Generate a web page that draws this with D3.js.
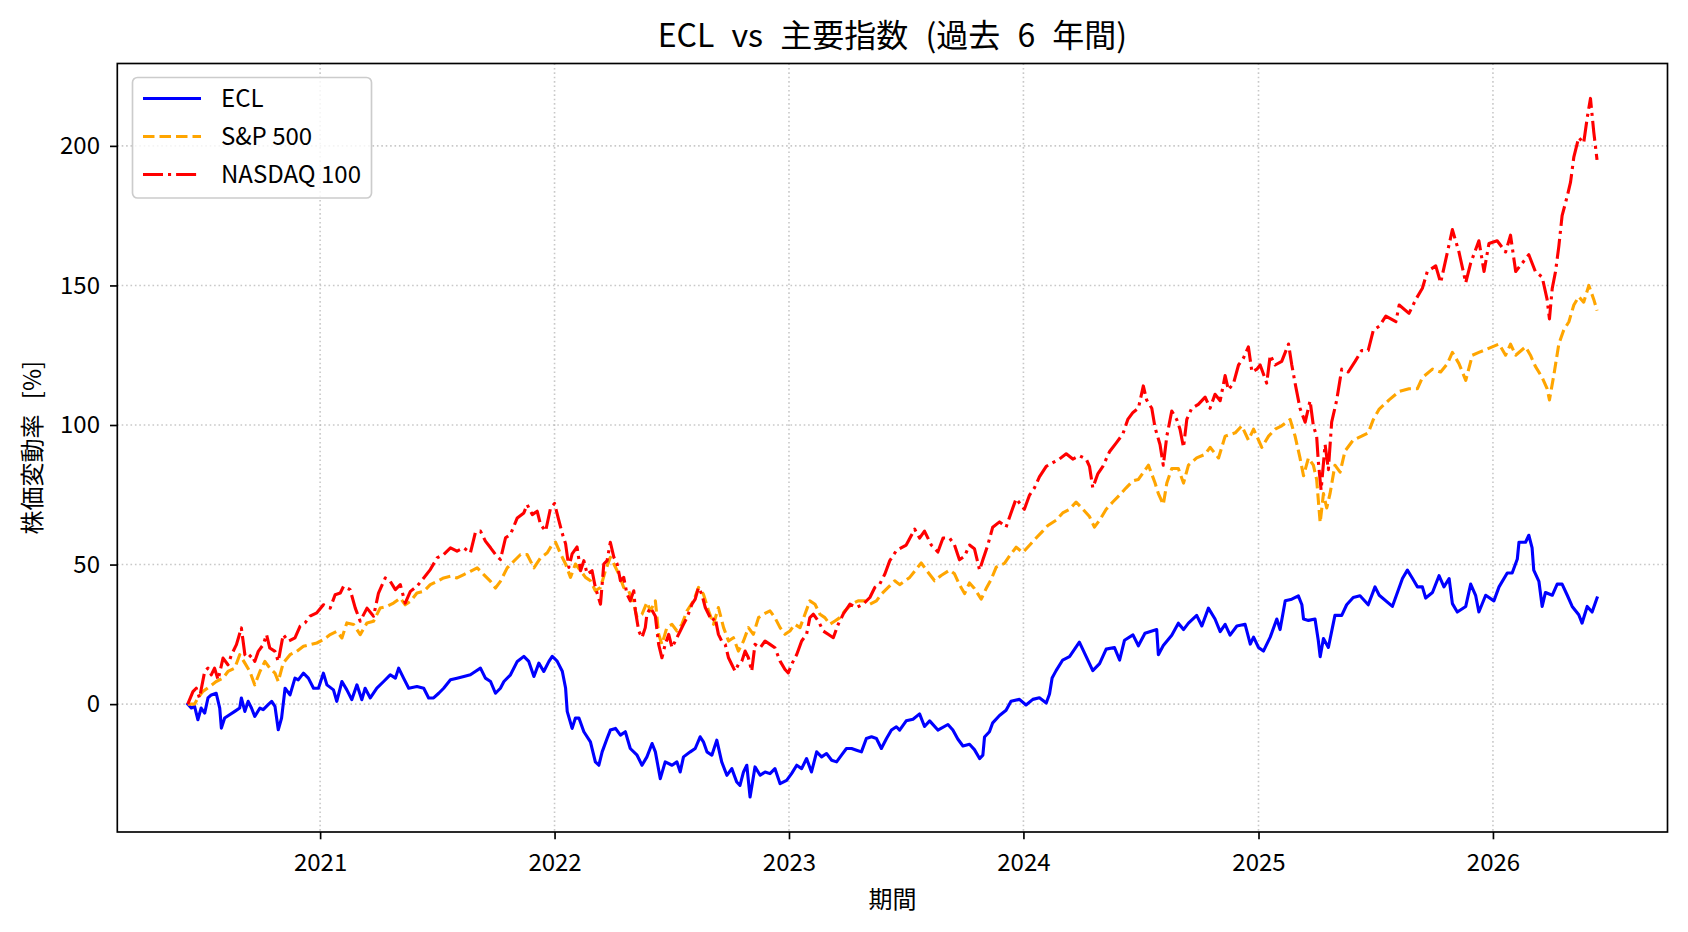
<!DOCTYPE html>
<html><head><meta charset="utf-8">
<script src="https://cdn.jsdelivr.net/npm/d3@7"></script>
<style>
html,body{margin:0;padding:0;background:#fff;}
svg{display:block;}
text{font-family:"Noto Sans CJK JP","Noto Sans",sans-serif;fill:#000;}
</style></head>
<body>
<script>
// ---- data: [decimal year, % change] ----
const seriesNames = ["ECL", "S&P 500", "NASDAQ 100"];
const yTicks = [0, 50, 100, 150, 200];
const xTickYears = [2021, 2022, 2023, 2024, 2025, 2026];
const titleText = "ECL vs 主要指数 (過去 6 年間)";
const xLabel = "期間";
const yLabel = "株価変動率 [%]";

const ecl = [
[2020.437,0],[2020.452,-1.4],[2020.466,-0.8],[2020.480,-5.6],[2020.494,-1.4],[2020.509,-3.2],[2020.523,2.2],[2020.537,3.3],[2020.558,3.9],[2020.573,-1.4],[2020.580,-8.6],[2020.594,-5],[2020.615,-3.8],[2020.637,-2.6],[2020.658,-1.4],[2020.665,2.2],[2020.680,-2.6],[2020.694,1],[2020.708,-1.4],[2020.722,-4.4],[2020.744,-1.4],[2020.758,-2],[2020.779,-0.2],[2020.794,1],[2020.808,-0.8],[2020.822,-9.2],[2020.836,-5],[2020.851,5.7],[2020.872,3.3],[2020.893,9.3],[2020.907,8.7],[2020.929,11.1],[2020.950,9.3],[2020.972,5.7],[2020.993,5.7],
[2021.014,11.1],[2021.029,6.9],[2021.057,5.1],[2021.071,1],[2021.093,8.1],[2021.114,5.1],[2021.135,1.6],[2021.157,6.9],[2021.178,1.6],[2021.192,5.7],[2021.214,2.2],[2021.242,5.7],[2021.271,8.1],[2021.299,10.5],[2021.321,9.3],[2021.335,12.9],[2021.356,9.3],[2021.378,5.7],[2021.413,6.3],[2021.442,5.7],[2021.463,2.2],[2021.484,2.2],[2021.506,3.9],[2021.527,5.7],[2021.556,8.7],[2021.584,9.3],[2021.613,9.9],[2021.641,10.5],[2021.662,11.7],[2021.684,12.9],[2021.705,9.3],[2021.727,8.1],[2021.748,3.9],[2021.769,5.7],[2021.784,8.1],[2021.812,10.5],[2021.841,15.3],[2021.869,17.1],[2021.890,15.3],[2021.912,9.9],[2021.933,14.7],[2021.954,11.7],[2021.976,15.3],[2021.990,17.1],
[2022.004,16],[2022.011,15.4],[2022.033,11.8],[2022.047,5.8],[2022.054,-2.6],[2022.075,-8.7],[2022.089,-5],[2022.104,-5],[2022.125,-9.9],[2022.153,-13.5],[2022.174,-20.7],[2022.189,-21.9],[2022.203,-17.1],[2022.224,-12.3],[2022.238,-9.3],[2022.260,-8.7],[2022.281,-11.1],[2022.302,-9.9],[2022.323,-15.9],[2022.352,-18.3],[2022.373,-21.9],[2022.394,-18.9],[2022.416,-14.1],[2022.430,-17.1],[2022.451,-26.7],[2022.472,-20.7],[2022.501,-21.9],[2022.522,-20.7],[2022.536,-24.3],[2022.550,-18.9],[2022.579,-17.1],[2022.600,-15.9],[2022.621,-11.7],[2022.635,-13.5],[2022.650,-17.1],[2022.671,-18.3],[2022.692,-12.9],[2022.713,-20.7],[2022.735,-25.5],[2022.756,-23.1],[2022.777,-27.9],[2022.791,-29.1],[2022.806,-24.3],[2022.820,-21.9],[2022.834,-33.3],[2022.855,-22.5],[2022.877,-25.5],[2022.898,-24.3],[2022.919,-24.9],[2022.940,-23.1],[2022.962,-28.5],[2022.990,-27.3],
[2023.011,-24.9],[2023.033,-21.9],[2023.054,-23.1],[2023.075,-19.5],[2023.096,-24.3],[2023.118,-17.1],[2023.139,-18.9],[2023.160,-17.7],[2023.182,-20.1],[2023.203,-20.7],[2023.224,-18.3],[2023.245,-15.9],[2023.267,-15.9],[2023.288,-16.5],[2023.309,-17.1],[2023.330,-12.3],[2023.352,-11.7],[2023.373,-12.3],[2023.394,-15.9],[2023.416,-12.3],[2023.437,-9.3],[2023.458,-8.1],[2023.472,-9.3],[2023.500,-6],[2023.529,-5.4],[2023.557,-3.5],[2023.578,-8],[2023.600,-6],[2023.635,-9.3],[2023.678,-7.3],[2023.699,-9.3],[2023.720,-12.5],[2023.742,-15],[2023.770,-14.4],[2023.791,-16.3],[2023.813,-19.5],[2023.827,-18.3],[2023.834,-11.8],[2023.855,-9.9],[2023.869,-6.7],[2023.898,-4.1],[2023.926,-2.2],[2023.947,1],[2023.983,1.7],
[2024.011,-0.3],[2024.040,1.7],[2024.068,2.3],[2024.097,0.4],[2024.111,3.6],[2024.122,9.4],[2024.139,12],[2024.167,15.8],[2024.196,17],[2024.238,22.2],[2024.267,17],[2024.295,12],[2024.324,14.5],[2024.352,19.7],[2024.387,20.3],[2024.409,15.8],[2024.430,22.9],[2024.466,24.8],[2024.489,20.9],[2024.517,25.4],[2024.567,26.7],[2024.574,17.7],[2024.595,21],[2024.631,24.7],[2024.659,29],[2024.681,26.7],[2024.702,29],[2024.737,31.8],[2024.759,28],[2024.787,34.4],[2024.815,30.5],[2024.837,26],[2024.858,28.6],[2024.879,24.7],[2024.908,28],[2024.943,28.6],[2024.965,21.5],[2024.979,24],
[2025.000,20.3],[2025.021,19],[2025.050,24],[2025.078,30.5],[2025.092,26.7],[2025.114,37],[2025.142,37.6],[2025.170,38.8],[2025.185,35.6],[2025.192,30.5],[2025.213,30],[2025.241,30.5],[2025.255,22.8],[2025.263,17],[2025.277,23.5],[2025.298,20.3],[2025.326,31.8],[2025.355,31.8],[2025.376,35.6],[2025.404,38.2],[2025.433,38.8],[2025.468,35.6],[2025.497,42],[2025.515,39],[2025.571,35],[2025.614,45],[2025.635,48],[2025.657,45],[2025.678,42],[2025.699,42],[2025.713,38],[2025.742,40],[2025.770,46],[2025.791,42],[2025.813,45],[2025.827,36],[2025.848,33],[2025.884,35],[2025.905,43],[2025.926,39],[2025.940,33],[2025.969,39],
[2026.004,37],[2026.026,42],[2026.061,47],[2026.082,47],[2026.104,52],[2026.111,58],[2026.139,58],[2026.153,60.5],[2026.167,56],[2026.174,48],[2026.196,44],[2026.210,35],[2026.224,40],[2026.253,39],[2026.274,43],[2026.295,43],[2026.317,39],[2026.338,35],[2026.366,32],[2026.380,29],[2026.402,35],[2026.423,33],[2026.444,38]
];

const sp500 = [
[2020.437,0],[2020.466,0],[2020.480,2.2],[2020.501,4.5],[2020.530,6.3],[2020.558,8.1],[2020.587,9.3],[2020.608,11.7],[2020.637,12.9],[2020.658,17.7],[2020.680,14.7],[2020.701,11.7],[2020.722,6.9],[2020.744,11.7],[2020.765,15.3],[2020.786,12.9],[2020.808,11.1],[2020.822,8.1],[2020.843,14.7],[2020.872,17.7],[2020.900,18.9],[2020.929,20.7],[2020.957,21.3],[2020.986,21.9],
[2021.014,23.1],[2021.043,24.9],[2021.071,26.1],[2021.093,23.7],[2021.114,29.1],[2021.143,28.5],[2021.171,24.9],[2021.200,29.1],[2021.228,29.7],[2021.256,34.4],[2021.285,35],[2021.313,36.2],[2021.342,38],[2021.363,35.6],[2021.385,36.8],[2021.413,39.8],[2021.442,40.4],[2021.470,42.8],[2021.499,44],[2021.527,45.2],[2021.556,45.8],[2021.584,45.2],[2021.613,46.4],[2021.641,47.6],[2021.670,48.8],[2021.698,46.4],[2021.727,44],[2021.748,41.6],[2021.769,44],[2021.798,48.8],[2021.826,51.2],[2021.855,53.6],[2021.883,53.6],[2021.912,48.8],[2021.940,52.4],[2021.969,54.2],[2021.990,57.2],
[2022.004,58],[2022.026,53.8],[2022.047,50.2],[2022.068,45.4],[2022.089,50.2],[2022.111,47.8],[2022.132,45.4],[2022.153,44.2],[2022.174,40.6],[2022.196,41.8],[2022.217,47.8],[2022.238,52.6],[2022.253,50.2],[2022.274,46.6],[2022.295,41.8],[2022.316,40.6],[2022.338,35.8],[2022.352,31],[2022.373,32.2],[2022.394,36.4],[2022.409,33.4],[2022.430,37],[2022.444,25],[2022.458,21.4],[2022.479,27.4],[2022.501,28.6],[2022.522,26.2],[2022.543,28.6],[2022.565,33.4],[2022.593,37],[2022.614,41.8],[2022.635,39.4],[2022.657,33.4],[2022.678,28.6],[2022.699,34.6],[2022.721,27.4],[2022.742,22.6],[2022.763,23.8],[2022.784,19],[2022.806,22.6],[2022.827,27.4],[2022.848,25],[2022.870,31],[2022.891,32.2],[2022.919,33.4],[2022.940,31],[2022.962,27.4],[2022.983,25],
[2023.004,26.2],[2023.025,28.6],[2023.047,27.4],[2023.068,32.2],[2023.089,37],[2023.111,35.8],[2023.132,32.2],[2023.153,31],[2023.174,28.6],[2023.196,29.8],[2023.217,31],[2023.238,33.4],[2023.267,35.8],[2023.295,37],[2023.323,37],[2023.345,35.8],[2023.373,37],[2023.394,39.4],[2023.423,41.8],[2023.451,44.2],[2023.472,42.8],[2023.515,45.4],[2023.564,50.6],[2023.586,48],[2023.621,44.2],[2023.649,46.1],[2023.685,48],[2023.706,46.7],[2023.727,42.8],[2023.749,39.6],[2023.770,43.4],[2023.791,41.4],[2023.820,37.6],[2023.841,41.4],[2023.862,44.6],[2023.884,49.1],[2023.919,50.4],[2023.940,53],[2023.969,56.2],[2023.997,54.3],
[2024.026,56.9],[2024.054,59.5],[2024.082,62],[2024.104,64],[2024.139,65.9],[2024.167,68.5],[2024.196,69.8],[2024.224,72.4],[2024.253,69.8],[2024.281,67.2],[2024.302,63.4],[2024.324,65.9],[2024.352,69.8],[2024.380,72.4],[2024.409,74.9],[2024.437,77.5],[2024.466,80],[2024.489,80.5],[2024.532,85.6],[2024.560,79.2],[2024.574,75.4],[2024.595,71.5],[2024.610,79.2],[2024.631,84.4],[2024.659,84.4],[2024.681,79.2],[2024.702,85.6],[2024.737,88.2],[2024.773,89.5],[2024.794,92],[2024.830,88.2],[2024.858,96],[2024.901,97.2],[2024.929,99.7],[2024.957,94.6],[2024.979,98.5],
[2025.014,92],[2025.043,96],[2025.071,98.5],[2025.099,99.7],[2025.135,102],[2025.156,96],[2025.177,88.2],[2025.192,81.8],[2025.213,88.2],[2025.234,85.6],[2025.248,80.5],[2025.263,65],[2025.277,75.4],[2025.291,70.3],[2025.305,75.4],[2025.326,85.6],[2025.348,83.1],[2025.369,90.7],[2025.404,94.6],[2025.440,96],[2025.468,97.2],[2025.490,102],[2025.515,105.7],[2025.557,109],[2025.600,112],[2025.642,113],[2025.678,113],[2025.699,117],[2025.742,120],[2025.777,119],[2025.806,122],[2025.827,126],[2025.855,122],[2025.884,116],[2025.912,125],[2025.940,126],[2025.969,127],[2025.997,128],
[2026.026,129],[2026.054,125],[2026.075,129],[2026.097,125],[2026.139,128],[2026.160,125],[2026.181,121],[2026.210,117],[2026.231,113],[2026.241,109],[2026.260,118],[2026.281,129],[2026.302,134],[2026.324,137],[2026.345,143],[2026.366,146],[2026.387,144],[2026.409,150],[2026.430,145],[2026.444,141]
];

const nasdaq100 = [
[2020.437,0],[2020.459,4.5],[2020.473,5.7],[2020.487,2.2],[2020.509,11.7],[2020.523,12.9],[2020.537,10.5],[2020.551,12.9],[2020.566,8.7],[2020.587,16.5],[2020.608,14.1],[2020.623,17.7],[2020.644,21.3],[2020.665,27.3],[2020.680,17.7],[2020.694,16.5],[2020.708,17.7],[2020.722,15.3],[2020.737,18.9],[2020.758,21.3],[2020.772,24.9],[2020.786,20.1],[2020.808,18.9],[2020.822,15.3],[2020.843,24.9],[2020.865,22.5],[2020.893,23.7],[2020.915,27.9],[2020.936,29.1],[2020.957,31.5],[2020.986,32.7],
[2021.014,35.6],[2021.043,34.4],[2021.064,39.2],[2021.086,39.8],[2021.100,42.2],[2021.128,41],[2021.150,34.4],[2021.171,29.7],[2021.200,34.4],[2021.228,31.5],[2021.249,39.8],[2021.278,45.2],[2021.299,44],[2021.321,41],[2021.342,42.8],[2021.363,36.2],[2021.385,40.4],[2021.413,42.2],[2021.442,45.2],[2021.470,48.2],[2021.499,52.4],[2021.527,53.6],[2021.556,56],[2021.584,54.8],[2021.613,56],[2021.641,54.2],[2021.662,61.4],[2021.684,62],[2021.705,58.4],[2021.727,56],[2021.748,53.6],[2021.769,51.8],[2021.791,59.6],[2021.812,60.8],[2021.841,66.7],[2021.869,68.5],[2021.883,71.5],[2021.905,67.9],[2021.926,69.1],[2021.940,64.4],[2021.962,62],[2021.983,70.3],
[2022.000,71.9],[2022.018,65.9],[2022.033,61.1],[2022.047,57.5],[2022.061,49],[2022.075,53.8],[2022.096,56.3],[2022.111,47.8],[2022.125,51.4],[2022.139,46.6],[2022.160,47.8],[2022.174,41.8],[2022.196,35.8],[2022.210,50.2],[2022.224,51.4],[2022.238,58],[2022.253,52.6],[2022.267,50.2],[2022.281,44.2],[2022.295,45.4],[2022.309,39.4],[2022.323,37],[2022.338,40.6],[2022.345,33.4],[2022.359,26.2],[2022.373,23.8],[2022.387,27.4],[2022.394,32.2],[2022.409,34.6],[2022.430,31.5],[2022.444,21.4],[2022.458,16.6],[2022.472,21.4],[2022.487,25],[2022.501,20.2],[2022.522,23.8],[2022.536,26.2],[2022.550,28.6],[2022.565,31],[2022.586,35.8],[2022.600,37.6],[2022.614,41.8],[2022.628,39.4],[2022.643,34.6],[2022.657,32.2],[2022.671,29.8],[2022.685,31],[2022.699,25],[2022.713,22.6],[2022.728,21.4],[2022.742,16.6],[2022.756,14.2],[2022.770,11.8],[2022.784,14.2],[2022.799,15.4],[2022.813,19],[2022.827,16.6],[2022.841,11.8],[2022.855,21.4],[2022.877,20.2],[2022.898,22.6],[2022.919,21.4],[2022.940,20.2],[2022.962,15.4],[2022.983,12.4],[2022.997,11.2],
[2023.011,14.2],[2023.033,17.8],[2023.054,22.6],[2023.075,25],[2023.089,31],[2023.104,32.2],[2023.125,29.8],[2023.146,26.2],[2023.167,25],[2023.189,23.8],[2023.210,28.6],[2023.231,32.2],[2023.260,35.8],[2023.288,34.6],[2023.316,35.8],[2023.345,38.2],[2023.366,41.8],[2023.387,43],[2023.409,46.6],[2023.430,51.4],[2023.458,55],[2023.472,55.7],[2023.500,57],[2023.536,62.7],[2023.557,59.5],[2023.578,62],[2023.607,57],[2023.635,54.5],[2023.657,59.5],[2023.685,59.5],[2023.706,57],[2023.727,51.7],[2023.749,53],[2023.770,57],[2023.791,55.7],[2023.813,48],[2023.827,51.7],[2023.848,57],[2023.869,63.4],[2023.898,65.3],[2023.926,63.4],[2023.947,68.5],[2023.969,73.6],
[2024.004,69.8],[2024.026,74.9],[2024.047,77.5],[2024.068,81.4],[2024.097,85.2],[2024.125,86.5],[2024.153,87.8],[2024.182,89.7],[2024.210,87.8],[2024.238,89],[2024.267,87.8],[2024.281,85.2],[2024.295,77.5],[2024.317,82.6],[2024.338,85.2],[2024.366,90.4],[2024.395,93.6],[2024.423,96.8],[2024.444,102],[2024.466,104.5],[2024.489,106],[2024.510,114],[2024.524,109],[2024.546,106],[2024.560,99],[2024.581,93],[2024.595,85.6],[2024.610,96],[2024.631,105],[2024.652,102],[2024.666,98.5],[2024.681,92],[2024.695,102],[2024.716,106],[2024.744,107.4],[2024.773,110],[2024.794,106],[2024.815,111],[2024.837,108.7],[2024.858,117.7],[2024.872,112.6],[2024.894,115],[2024.915,121.5],[2024.936,124],[2024.957,128],[2024.972,119],[2024.993,120],
[2025.007,121.5],[2025.035,115],[2025.050,125],[2025.071,121.5],[2025.099,122.8],[2025.128,129],[2025.142,121.5],[2025.156,115],[2025.177,106],[2025.199,101],[2025.220,108.7],[2025.234,99.7],[2025.248,96],[2025.255,87],[2025.267,76.7],[2025.284,93],[2025.298,84],[2025.312,101],[2025.333,108.7],[2025.355,120],[2025.383,119],[2025.412,122.8],[2025.440,126.7],[2025.468,126.7],[2025.490,134],[2025.515,135.4],[2025.543,139],[2025.586,137],[2025.600,143],[2025.642,140],[2025.671,145],[2025.699,149],[2025.720,155],[2025.756,157],[2025.777,151],[2025.806,162],[2025.827,170],[2025.855,162],[2025.884,151],[2025.905,158],[2025.940,166],[2025.962,155],[2025.983,165],
[2026.018,166],[2026.054,162],[2026.075,168],[2026.097,155],[2026.125,158],[2026.153,161],[2026.181,155],[2026.210,153],[2026.231,145],[2026.241,138],[2026.253,149],[2026.267,155],[2026.281,164],[2026.295,175],[2026.317,182],[2026.331,187],[2026.345,196],[2026.366,203],[2026.387,201],[2026.402,210],[2026.416,217],[2026.430,205],[2026.444,195]
];

const colors = ["#0000ff", "#ffa500", "#ff0000"];
const dashes = [null, "11.5,5", "20,5,3.1,5"];

// ---- layout ----
const W = 1688, H = 932;
const M = {left: 117.3, right: 1667.5, top: 63.5, bottom: 832};

function toDate(t) {
  const y = Math.floor(t);
  const s = new Date(y, 0, 1), e = new Date(y + 1, 0, 1);
  return new Date(+s + (t - y) * (e - s));
}

const allSeries = [ecl, sp500, nasdaq100];
const tExt = d3.extent(allSeries.flat(), d => d[0]);
const vExt = d3.extent(allSeries.flat(), d => d[1]);
const t0 = toDate(tExt[0]), t1 = toDate(tExt[1]);
const tPad = (t1 - t0) * 0.05;
const vPad = (vExt[1] - vExt[0]) * 0.05;

const x = d3.scaleTime().domain([new Date(+t0 - tPad), new Date(+t1 + tPad)]).range([M.left, M.right]);
const y = d3.scaleLinear().domain([vExt[0] - vPad, vExt[1] + vPad]).range([M.bottom, M.top]);

const svg = d3.select("body").append("svg").attr("width", W).attr("height", H);
svg.append("rect").attr("width", W).attr("height", H).attr("fill", "#fff");

// grid
const grid = svg.append("g");
const xTickDates = xTickYears.map(yr => new Date(yr, 0, 1));
grid.selectAll("line.gx").data(xTickDates).join("line")
  .attr("x1", d => x(d)).attr("x2", d => x(d)).attr("y1", M.top).attr("y2", M.bottom)
  .attr("stroke", "#b0b0b0").attr("stroke-opacity", 0.7).attr("stroke-width", 1.6).attr("stroke-dasharray", "1.6,2.8");
grid.selectAll("line.gy").data(yTicks).join("line")
  .attr("x1", M.left).attr("x2", M.right).attr("y1", d => y(d)).attr("y2", d => y(d))
  .attr("stroke", "#b0b0b0").attr("stroke-opacity", 0.7).attr("stroke-width", 1.6).attr("stroke-dasharray", "1.6,2.8");

// clip
svg.append("clipPath").attr("id", "clip").append("rect")
  .attr("x", M.left).attr("y", M.top).attr("width", M.right - M.left).attr("height", M.bottom - M.top);

const line = d3.line().x(d => x(toDate(d[0]))).y(d => y(d[1]));
const lines = svg.append("g").attr("clip-path", "url(#clip)");
allSeries.forEach((s, i) => {
  lines.append("path").datum(s).attr("d", line)
    .attr("fill", "none").attr("stroke", colors[i]).attr("stroke-width", 3.1)
    .attr("stroke-linejoin", "round")
    .attr("stroke-linecap", i === 0 ? "square" : "butt")
    .attr("stroke-dasharray", dashes[i]);
});

// axes
const xAxis = d3.axisBottom(x).tickValues(xTickDates).tickFormat(d3.timeFormat("%Y")).tickSize(7.3).tickPadding(15);
const yAxis = d3.axisLeft(y).tickValues(yTicks).tickFormat(d3.format("d")).tickSize(7.3).tickPadding(10);
const gx = svg.append("g").attr("transform", `translate(0,${M.bottom})`).call(xAxis);
const gy = svg.append("g").attr("transform", `translate(${M.left},0)`).call(yAxis);
[gx, gy].forEach(g => {
  g.select(".domain").remove();
  g.selectAll(".tick line").attr("stroke", "#000").attr("stroke-width", 1.67);
  g.selectAll(".tick text").attr("font-size", 24).attr("fill", "#000")
    .attr("font-family", '"Noto Sans CJK JP", sans-serif');
});

// frame
svg.append("rect").attr("x", M.left).attr("y", M.top).attr("width", M.right - M.left).attr("height", M.bottom - M.top)
  .attr("fill", "none").attr("stroke", "#000").attr("stroke-width", 1.67);

// title & labels
svg.append("text").attr("x", (M.left + M.right) / 2).attr("y", 46.5).attr("text-anchor", "middle")
  .attr("font-size", 32).attr("word-spacing", 10).text(titleText);
svg.append("text").attr("x", (M.left + M.right) / 2).attr("y", 908).attr("text-anchor", "middle")
  .attr("font-size", 24).text(xLabel);
svg.append("text").attr("transform", `translate(41,${(M.top + M.bottom) / 2}) rotate(-90)`).attr("text-anchor", "middle")
  .attr("font-size", 24).attr("word-spacing", 10).text(yLabel);

// legend
const lg = svg.append("g");
lg.append("rect").attr("x", 132.5).attr("y", 77.5).attr("width", 239).attr("height", 120.5).attr("rx", 5)
  .attr("fill", "#fff").attr("fill-opacity", 0.8).attr("stroke", "#cccccc").attr("stroke-width", 1.67);
seriesNames.forEach((n, i) => {
  const yy = 98.5 + i * 38;
  lg.append("line").attr("x1", 143).attr("x2", 201).attr("y1", yy).attr("y2", yy)
    .attr("stroke", colors[i]).attr("stroke-width", 3.1).attr("stroke-dasharray", dashes[i]);
  lg.append("text").attr("x", 221).attr("y", yy + 8.5).attr("font-size", 24).text(n);
});
</script>
</body></html>
